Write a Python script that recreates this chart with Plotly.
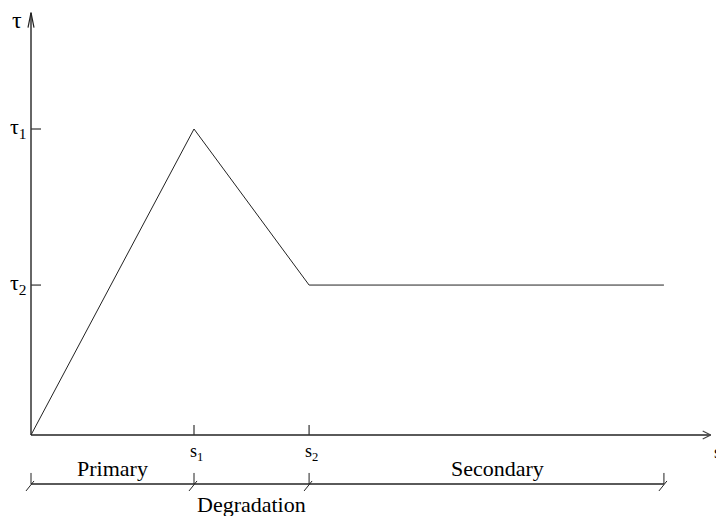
import plotly.graph_objects as go

# ---- data (arbitrary units) ----
s_points = [0.0, 1.0, 1.706, 3.883]      # 0, s1, s2, end of secondary
tau_points = [0.0, 1.0, 0.490, 0.490]    # 0, tau1, tau2, tau2
tau_ticks = [1.0, 0.490]
tau_tick_labels = ["τ<sub>1</sub>", "τ<sub>2</sub>"]
s_ticks = [1.0, 1.706]
s_tick_labels = ["s<sub>1</sub>", "s<sub>2</sub>"]
zones = ["Primary", "Degradation", "Secondary"]
zone_x = [0.50, 1.355, 2.86]
zone_row = [0, 1, 0]
dim_stops = [0.0, 1.0, 1.706, 3.883]

# ---- scale helpers (pixels per unit) ----
PX_S = 163.0
PX_T = 306.0
x_axis_end = 4.17
y_axis_end = 1.38
dim_y = -0.160

W, H = 716, 516
ox, oy = 31, 435
xr = [-ox / PX_S, (W - ox) / PX_S]
yr = [(oy - H) / PX_T, oy / PX_T]


def dx(px):
    return px / PX_S


def dy(px):
    return px / PX_T


fig = go.Figure()


def seg(xs, ys, color="#000", width=1.0):
    fig.add_trace(go.Scatter(x=xs, y=ys, mode="lines",
                             line=dict(color=color, width=width),
                             hoverinfo="skip", showlegend=False))


# axes
seg([0, x_axis_end], [0, 0], "#5a5a5a", 2)
seg([0, 0], [0, y_axis_end], "#333", 1.5)
# arrow barbs
seg([x_axis_end - dx(8), x_axis_end, x_axis_end - dx(8)],
    [dy(4), 0, -dy(4)], "#444", 1.2)
seg([-dx(3), 0, dx(3)], [y_axis_end - dy(15), y_axis_end, y_axis_end - dy(15)], "#222", 1.2)

# curve
seg(s_points, tau_points, "#222", 1.0)

# ticks on axes
for t in tau_ticks:
    seg([0, dx(10)], [t, t], "#333", 1.2)
for s in s_ticks:
    seg([s, s], [0, dy(10)], "#333", 1.2)

# dimension line
seg([dim_stops[0], dim_stops[-1]], [dim_y, dim_y], "#5a5a5a", 2)
for s in dim_stops:
    seg([s, s], [dim_y + dy(11), dim_y], "#222", 1.0)
    seg([s - dx(5), s + dx(3)], [dim_y - dy(7), dim_y + dy(3)], "#222", 1.0)

serif = "Liberation Serif"
ann = []
ann.append(dict(x=-dx(14), y=y_axis_end - dy(7), text="τ", showarrow=False,
                font=dict(family=serif, size=24, color="#000"),
                xanchor="center", yanchor="middle"))
for t, lab in zip(tau_ticks, tau_tick_labels):
    ann.append(dict(x=-dx(13), y=t + dy(1), text=lab, showarrow=False,
                    font=dict(family=serif, size=22, color="#000"),
                    xanchor="center", yanchor="middle"))
for s, lab in zip(s_ticks, s_tick_labels):
    ann.append(dict(x=s + dx(2), y=-dy(17), text=lab, showarrow=False,
                    font=dict(family=serif, size=18, color="#000"),
                    xanchor="center", yanchor="middle"))
ann.append(dict(x=x_axis_end + dx(1), y=-dy(17), text="s", showarrow=False,
                font=dict(family=serif, size=18, color="#000"),
                xanchor="left", yanchor="middle"))
for name, zx, row in zip(zones, zone_x, zone_row):
    yy = dim_y + dy(15) if row == 0 else dim_y - dy(21)
    ann.append(dict(x=zx, y=yy, text=name, showarrow=False,
                    font=dict(family=serif, size=22, color="#000"),
                    xanchor="center", yanchor="middle"))

fig.update_layout(
    width=W, height=H, autosize=False,
    margin=dict(l=0, r=0, t=0, b=0),
    paper_bgcolor="white", plot_bgcolor="white",
    xaxis=dict(range=xr, visible=False, fixedrange=True),
    yaxis=dict(range=yr, visible=False, fixedrange=True),
    annotations=ann,
    showlegend=False,
)

fig.write_html("out.html")
